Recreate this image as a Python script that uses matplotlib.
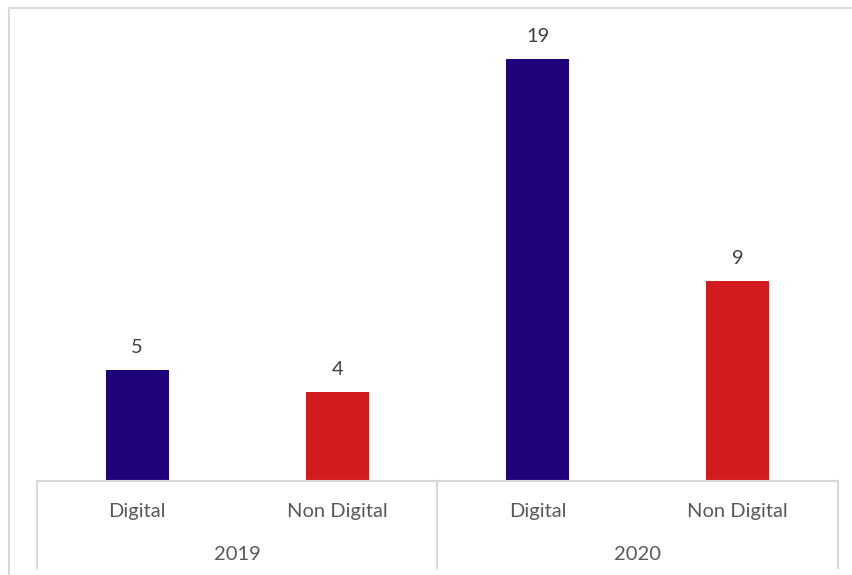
import matplotlib.pyplot as plt
from matplotlib.patches import Rectangle

years = ["2019", "2020"]
kinds = ["Digital", "Non Digital"]
values = [5, 4, 19, 9]
colors = ["#1F037A", "#D21C1F", "#1F037A", "#D21C1F"]

plt.rcParams['font.family'] = ['Lato', 'DejaVu Sans']

W, H = 853, 575
fig = plt.figure(figsize=(W / 100, H / 100), dpi=100)

# chart frame (runs off the right and bottom edge)
fig.patches.append(Rectangle((9 / W, -0.1), 1.2, 1 - 8 / H + 0.1,
                             transform=fig.transFigure, fill=False,
                             edgecolor="#D9D9D9", linewidth=1.5))

left, right, base, top = 37, 838, 481, 37
ax = fig.add_axes([left / W, 1 - base / H, (right - left) / W, (base - top) / H])
ax.set_ylim(0, 20)
ax.set_xlim(-0.5, len(values) - 0.5)

x = list(range(len(values)))
bars = ax.bar(x, values, width=0.315, color=colors, zorder=2)
for xi, v in zip(x, values):
    ax.annotate(str(v), (xi, v), xytext=(0, 16.5), textcoords="offset points",
                ha="center", va="center", fontsize=14.5, color="#404040")

for s in ["top", "left", "right"]:
    ax.spines[s].set_visible(False)
ax.spines["bottom"].set_color("#D9D9D9")
ax.spines["bottom"].set_linewidth(1.5)
ax.set_xticks([])
ax.set_yticks([])

# two-level category axis
px = 1 / (base - top)
tr = ax.get_xaxis_transform()
n = len(kinds)
for i in range(len(values)):
    ax.text(i, -30.5 * px, kinds[i % n], transform=tr, ha="center", va="center",
            fontsize=14.5, color="#595959")
for j, yr in enumerate(years):
    ax.text(j * n + (n - 1) / 2, -74 * px, yr, transform=tr, ha="center",
            va="center", fontsize=14.5, color="#595959")
for j in range(len(years) + 1):
    ax.plot([j * n - 0.5] * 2, [0, -87 * px], transform=tr, color="#D9D9D9",
            linewidth=1.5, clip_on=False)

fig.savefig("out.png", dpi=100)
